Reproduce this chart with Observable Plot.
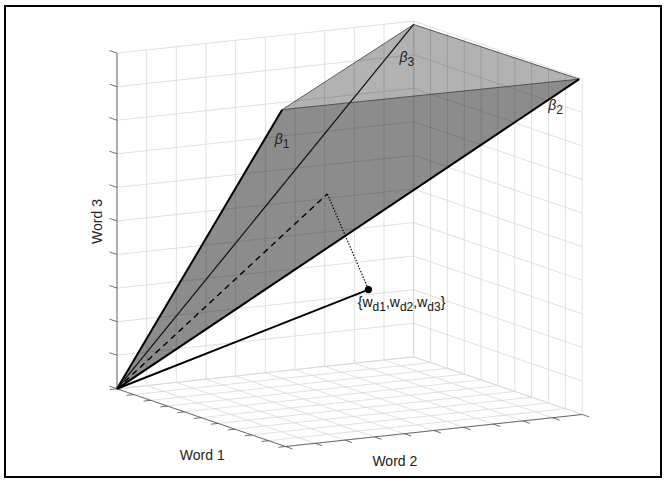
<!DOCTYPE html>
<html><head><meta charset="utf-8">
<script src="https://cdn.jsdelivr.net/npm/d3@7"></script>
<script src="https://cdn.jsdelivr.net/npm/@observablehq/plot@0.6"></script>
<style>
body{margin:0;background:#fff;}
#wrap{position:relative;width:666px;height:482px;overflow:hidden;}
#frame{position:absolute;left:4px;top:4.5px;width:654px;height:469px;border:2.5px solid #000;pointer-events:none;}
</style></head><body><div id="wrap"><div id="frame"></div></div>
<script>
// ---- data ----
const axisNames = ["Word 1", "Word 2", "Word 3"];
const ticks = [0, 1, 2, 3, 4, 5, 6, 7, 8, 9, 10];
const topicNames = ["β_1", "β_2", "β_3"];
const topicWord1 = [9.8, 10, 0];
const topicWord2 = [0, 9.9, 10];
const topicWord3 = [10, 10, 9.9];
const docName = "{w_d1,w_d2,w_d3}";
const docWords = [7, 4.5, 3.73];        // document point
const docProjection = [5, 4.25, 6.26];  // its projection onto the topic cone

// ---- 3D view (orthographic camera) ----
const V = {ox: 116.5, oy: 388.3, ax: 16.85, ay: 5.77, bx: 29.67, by: -3.2, cz: -33.57};
const proj = (u, v, w) => [V.ox + u * V.ax + v * V.bx, V.oy + u * V.ay + v * V.by + w * V.cz];
const seg = (p, q) => { const [x1, y1] = proj(...p), [x2, y2] = proj(...q); return {x1, y1, x2, y2}; };
const pt = (p, extra = {}) => { const [x, y] = proj(...p); return {x, y, ...extra}; };

const lo = ticks[0], hi = ticks[ticks.length - 1];
const O = [lo, lo, lo];
const grid = [];
for (const t of ticks) {
  grid.push(seg([lo, t, lo], [lo, t, hi]), seg([lo, lo, t], [lo, hi, t]));   // wall Word1 = min
  grid.push(seg([t, hi, lo], [t, hi, hi]), seg([lo, hi, t], [hi, hi, t]));   // wall Word2 = max
  grid.push(seg([t, lo, lo], [t, hi, lo]), seg([lo, t, lo], [hi, t, lo]));   // floor
}
const axisLines = [seg(O, [hi, lo, lo]), seg([hi, lo, lo], [hi, hi, lo]), seg(O, [lo, lo, hi])];
const tickSegs = [];
for (const t of ticks) {
  tickSegs.push(seg([t, lo, lo], [t, lo - 0.24, lo]));
  tickSegs.push(seg([hi, t, lo], [hi + 0.42, t, lo]));
  tickSegs.push(seg([lo, lo, t], [lo - 0.45, lo, t]));
}
const topics = topicNames.map((n, i) => ({name: n, p: [topicWord1[i], topicWord2[i], topicWord3[i]]}));
const frontFace = [O, topics[0].p, topics[1].p].map(p => pt(p));
const topFace = [topics[0].p, topics[1].p, topics[2].p].map(p => pt(p));
const topicRays = topics.map(t => ({...seg(O, t.p), name: t.name}));
const topEdges = [seg(topics[0].p, topics[1].p), seg(topics[1].p, topics[2].p), seg(topics[2].p, topics[0].p)];

const fontFamily = "'Liberation Sans', Arial, Helvetica, sans-serif";
const labelOffsets = [[-7.4, 30], [-31, 26], [-14.3, 33.5]];

const marks = [
  Plot.link(grid, {x1: "x1", y1: "y1", x2: "x2", y2: "y2", stroke: "#d6d6d6", strokeWidth: 0.75}),
  Plot.link(axisLines, {x1: "x1", y1: "y1", x2: "x2", y2: "y2", stroke: "#4d4d4d", strokeWidth: 0.8}),
  Plot.link(tickSegs, {x1: "x1", y1: "y1", x2: "x2", y2: "y2", stroke: "#4d4d4d", strokeWidth: 0.8}),
  Plot.line(topFace, {x: "x", y: "y", fill: "#000", fillOpacity: 0.3, stroke: "none"}),
  Plot.line(frontFace, {x: "x", y: "y", fill: "#000", fillOpacity: 0.45, stroke: "none"}),
  Plot.link(topEdges, {x1: "x1", y1: "y1", x2: "x2", y2: "y2", stroke: "#3a3a3a", strokeWidth: 0.8}),
  Plot.link(topicRays.filter(d => d.name !== "β_3"), {x1: "x1", y1: "y1", x2: "x2", y2: "y2", stroke: "#000", strokeWidth: 2}),
  Plot.link(topicRays.filter(d => d.name === "β_3"), {x1: "x1", y1: "y1", x2: "x2", y2: "y2", stroke: "#111", strokeWidth: 1.2}),
  Plot.link([seg(O, docProjection)], {x1: "x1", y1: "y1", x2: "x2", y2: "y2", stroke: "#000", strokeWidth: 1.4, strokeDasharray: "6,4.5", strokeLinecap: "butt"}),
  Plot.link([seg(docProjection, docWords)], {x1: "x1", y1: "y1", x2: "x2", y2: "y2", stroke: "#000", strokeWidth: 1.2, strokeDasharray: "1.4,1.6", strokeLinecap: "butt"}),
  Plot.link([seg(O, docWords)], {x1: "x1", y1: "y1", x2: "x2", y2: "y2", stroke: "#000", strokeWidth: 2}),
  Plot.dot([pt(docWords)], {x: "x", y: "y", r: 3.6, fill: "#000", stroke: "none"}),
  Plot.text([pt(docWords, {t: docName})], {x: "x", y: "y", text: "t", dx: -10.7, dy: 13, textAnchor: "start", fontSize: 14, fill: "#111"}),
  ...topics.map((t, i) => Plot.text([pt(t.p, {t: t.name})], {x: "x", y: "y", text: "t", dx: labelOffsets[i][0], dy: labelOffsets[i][1], textAnchor: "start", fontSize: 14, fill: "#222"})),
  Plot.text([pt([(lo + hi) / 2, lo, lo], {t: axisNames[0]})], {x: "x", y: "y", text: "t", dx: 1, dy: 37.6, fontSize: 14, fill: "#222"}),
  Plot.text([pt([hi, (lo + hi) / 2, lo], {t: axisNames[1]})], {x: "x", y: "y", text: "t", dx: -39, dy: 31.5, fontSize: 14, fill: "#222"}),
  Plot.text([pt([lo, lo, (lo + hi) / 2], {t: axisNames[2]})], {x: "x", y: "y", text: "t", dx: -19.3, dy: 0.5, rotate: -90, fontSize: 14, fill: "#222"})
];

const chart = Plot.plot({
  width: 666, height: 482, margin: 0,
  x: {domain: [0, 666], range: [0, 666]},
  y: {domain: [0, 482], range: [0, 482]},
  axis: null,
  style: {fontFamily, background: "transparent", overflow: "visible"},
  marks
});

// TeX-like subscripts: "_xx" → subscript tspan
chart.querySelectorAll("text").forEach(t => {
  const s = t.textContent;
  if (!s.includes("_")) return;
  const parts = s.split(/(_[^,}]+)/).filter(Boolean);
  t.textContent = "";
  let down = false;
  for (const p of parts) {
    const ts = document.createElementNS("http://www.w3.org/2000/svg", "tspan");
    if (p.startsWith("_")) {
      ts.textContent = p.slice(1);
      ts.setAttribute("dy", "4");
      ts.setAttribute("font-size", "12");
      down = true;
    } else {
      ts.textContent = p;
      if (down) ts.setAttribute("dy", "-4");
      if (p === "β") ts.setAttribute("font-style", "italic");
      down = false;
    }
    t.appendChild(ts);
  }
});
document.getElementById("wrap").insertBefore(chart, document.getElementById("frame"));
</script></body></html>
